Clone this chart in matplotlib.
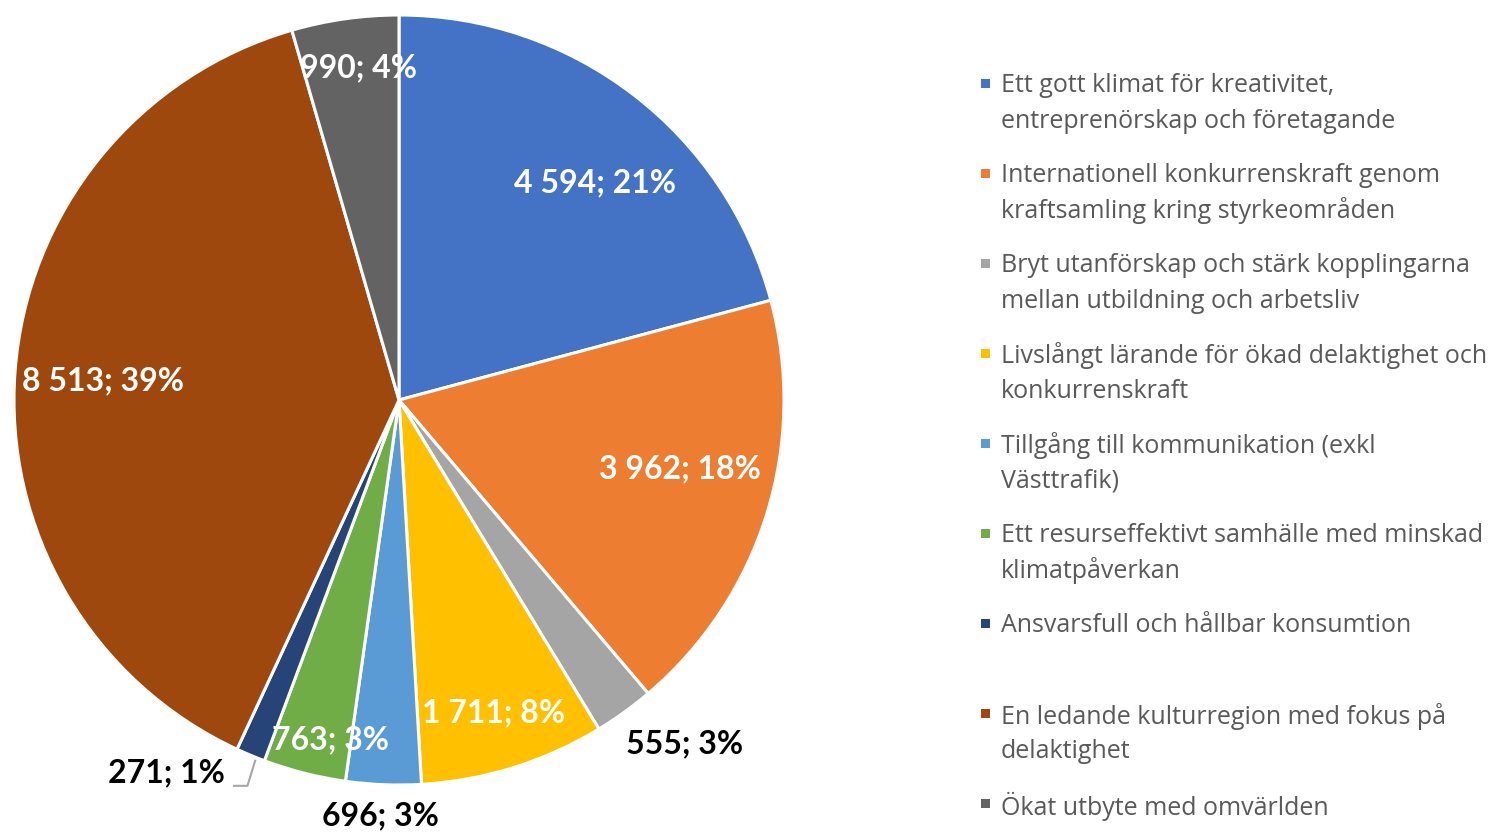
import numpy as np
import matplotlib
matplotlib.use("Agg")
import matplotlib.pyplot as plt
from matplotlib.patches import Rectangle

plt.rcParams['font.family'] = ['Lato', 'DejaVu Sans']

categories = [
    "Ett gott klimat för kreativitet,\nentreprenörskap och företagande",
    "Internationell konkurrenskraft genom\nkraftsamling kring styrkeområden",
    "Bryt utanförskap och stärk kopplingarna\nmellan utbildning och arbetsliv",
    "Livslångt lärande för ökad delaktighet och\nkonkurrenskraft",
    "Tillgång till kommunikation (exkl\nVästtrafik)",
    "Ett resurseffektivt samhälle med minskad\nklimatpåverkan",
    "Ansvarsfull och hållbar konsumtion",
    "En ledande kulturregion med fokus på\ndelaktighet",
    "Ökat utbyte med omvärlden",
]
values = [4594, 3962, 555, 1711, 696, 763, 271, 8513, 990]
value_labels = ["4 594; 21%", "3 962; 18%", "555; 3%", "1 711; 8%", "696; 3%",
                "763; 3%", "271; 1%", "8 513; 39%", "990; 4%"]
colors = ["#4472C4", "#ED7D31", "#A5A5A5", "#FFC000", "#5B9BD5",
          "#70AD47", "#264478", "#9E480E", "#636363"]
# label placement (radius fraction, angle offset in deg) and color
label_r = [0.76, 0.75, 1.16, 0.85, 1.08, 0.90, 1.14, 0.77, 0.87]
label_da = [-4.6, 3.6, 3.9, -0.5, -0.2, 2.8, -9.3, 0.7, -1.1]
label_col = ["white", "white", "black", "white", "black", "white", "black", "white", "white"]

W, H = 1499, 833
fig = plt.figure(figsize=(W / 100, H / 100), dpi=100)
cx, cy, R = 399, 400, 385
ax = fig.add_axes([(cx - R) / W, (H - cy - R) / H, 2 * R / W, 2 * R / H])
wedges, _ = ax.pie(values, colors=colors, startangle=90, counterclock=False,
                   radius=1.0, wedgeprops=dict(edgecolor="white", linewidth=2.2))
ax.set_xlim(-1, 1)
ax.set_ylim(-1, 1)
ax.set_aspect("equal")
ax.axis("off")

for i, w in enumerate(wedges):
    mid = np.deg2rad((w.theta1 + w.theta2) / 2 + label_da[i])
    r = label_r[i]
    x, y = r * np.cos(mid), r * np.sin(mid)
    ax.text(x, y, value_labels[i], ha="center", va="center", fontsize=23,
            fontweight="bold", color=label_col[i], clip_on=False)
    if i == 6:
        # leader line to the small slice
        ax.plot([x + 0.175, x + 0.21, x + 0.23], [y - 0.035, y - 0.035, y + 0.03],
                color="#A6A6A6", lw=1.5, clip_on=False)

# legend drawn manually
lx_text = 1001
for i, lab in enumerate(categories):
    y0 = 83 + 90 * i
    fig.patches.append(Rectangle((981 / W, 1 - (y0 + 5) / H), 9 / W, 9 / H,
                                 transform=fig.transFigure, facecolor=colors[i],
                                 edgecolor="none"))
    for j, line in enumerate(lab.split("\n")):
        fig.text(lx_text / W, 1 - (y0 + 35 * j) / H, line, ha="left",
                 va="center_baseline", fontsize=18, color="#595959",
                 family=["Open Sans", "DejaVu Sans"])

fig.savefig("out.png", dpi=100, facecolor="white")
